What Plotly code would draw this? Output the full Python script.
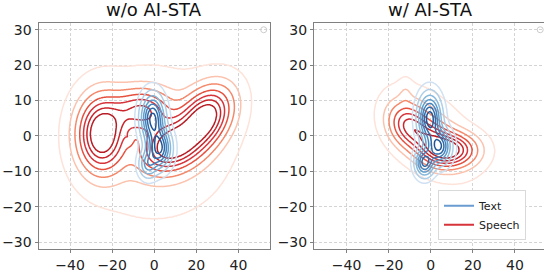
import numpy as np
import plotly.graph_objects as go

# ---- Gaussian-mixture components:
# centre x, centre y, sd x, sd y, correlation, peak height
spL_cx = [-25, 24, 8, -6, 0, -12]
spL_cy = [0.5, 5, -3, 7, -2, -1]
spL_sx = [7, 8, 9, 9, 22, 1.3]
spL_sy = [6.5, 5.5, 4.5, 4, 12.5, 1.3]
spL_r = [0, 0.35, 0.2, 0, 0, 0]
spL_h = [1.0, 0.95, 0.85, 0.6, 0.12, 0.1]

txL_cx = [-0.8, 2.5, -3]
txL_cy = [5, -3.5, -8]
txL_sx = [3.5, 3.5, 2.8]
txL_sy = [4.2, 3.5, 2.5]
txL_r = [0, 0, 0]
txL_h = [1.0, 0.95, 0.5]

spR_cx = [-11, 9, 0, 0, -12]
spR_cy = [3, -4, -1, 1, 12]
spR_sx = [6, 8, 7, 13, 2]
spR_sy = [4, 3, 4, 8, 2.5]
spR_r = [-0.2, 0, -0.3, -0.5, 0]
spR_h = [0.7, 1.0, 0.6, 0.15, 0.08]

txR_cx = [-0.5, 4, -3]
txR_cy = [5, -3, -7.5]
txR_sx = [3.4, 3.5, 2.8]
txR_sy = [4.2, 3, 2.5]
txR_r = [0, 0, 0]
txR_h = [1.0, 0.9, 0.8]

# contour levels (fraction of peak density) and their line colours
speech_levels = [0.025, 0.1, 0.2, 0.33, 0.46, 0.59, 0.72]
speech_colors = ["#fde3da", "#fbc3ae", "#f4896b", "#e6513f", "#d6333a", "#c8262c", "#b81d25"]
text_levels = [0.05, 0.15, 0.3, 0.45, 0.6, 0.75, 0.9]
text_colors = ["#cfe1f2", "#aecfe8", "#86b8dc", "#5f9dcd", "#4283be", "#2d6aa9", "#1f5596"]

titles = ["w/o AI-STA", "w/ AI-STA"]
legend_names = ["Text", "Speech"]
x_ticks = [-40, -20, 0, 20, 40]
y_ticks = [-30, -20, -10, 0, 10, 20, 30]

gx = np.linspace(-60, 60, 301)
gy = np.linspace(-36, 36, 221)
GX, GY = np.meshgrid(gx, gy)


def mixture(cx, cy, sx, sy, r, h):
    z = np.zeros_like(GX)
    for a, b, s1, s2, rho, hh in zip(cx, cy, sx, sy, r, h):
        dx = (GX - a) / s1
        dy = (GY - b) / s2
        q = (dx * dx - 2 * rho * dx * dy + dy * dy) / (1 - rho * rho)
        z += hh * np.exp(-0.5 * q)
    return z / z.max()


fig = go.Figure()


def add_kde(z, levels, colors, xa, ya):
    n = len(levels)
    idx = np.interp(z, [0.0] + levels + [1.0], [-1.0] + list(range(n)) + [n])
    scale = [[k / (n - 1), c] for k, c in enumerate(colors)]
    fig.add_trace(go.Contour(
        x=gx, y=gy, z=idx, xaxis=xa, yaxis=ya, autocontour=False,
        contours=dict(coloring="lines", start=0, end=n - 1, size=1),
        colorscale=scale, zmin=0, zmax=n - 1, showscale=False,
        line=dict(width=1.5, smoothing=1), hoverinfo="skip", showlegend=False))


add_kde(mixture(spL_cx, spL_cy, spL_sx, spL_sy, spL_r, spL_h), speech_levels, speech_colors, "x", "y")
add_kde(mixture(txL_cx, txL_cy, txL_sx, txL_sy, txL_r, txL_h), text_levels, text_colors, "x", "y")
add_kde(mixture(spR_cx, spR_cy, spR_sx, spR_sy, spR_r, spR_h), speech_levels, speech_colors, "x2", "y2")
add_kde(mixture(txR_cx, txR_cy, txR_sx, txR_sy, txR_r, txR_h), text_levels, text_colors, "x2", "y2")

# small empty legend-marker circles at the upper right corner of each panel
for xa, ya in [("x", "y"), ("x2", "y2")]:
    fig.add_trace(go.Scatter(x=[52], y=[30], xaxis=xa, yaxis=ya, mode="markers",
                             marker=dict(symbol="circle-open", size=6, color="#cccccc"),
                             showlegend=False, hoverinfo="skip"))

fig.add_trace(go.Scatter(x=[None], y=[None], xaxis="x2", yaxis="y2", mode="lines",
                         line=dict(color="#6a9bd1", width=2), name=legend_names[0]))
fig.add_trace(go.Scatter(x=[None], y=[None], xaxis="x2", yaxis="y2", mode="lines",
                         line=dict(color="#d6333a", width=2), name=legend_names[1]))

font = dict(family="DejaVu Sans", size=14, color="#222222")
ax_common = dict(showgrid=True, gridcolor="#d4d4d4", griddash="3px,2px", gridwidth=0.7,
                 zeroline=False, showline=True, linecolor="#808080", linewidth=1,
                 ticks="outside", ticklen=3, tickcolor="#808080", tickfont=font)

W, H = 544, 273
fig.update_layout(
    width=W, height=H, margin=dict(l=0, r=0, t=0, b=0),
    paper_bgcolor="white", plot_bgcolor="white",
    xaxis=dict(domain=[38.5 / W, 270 / W], range=[-55, 55], tickvals=x_ticks, mirror=True,
               anchor="y", **ax_common),
    yaxis=dict(domain=[1 - 252 / H, 1 - 22 / H], range=[-32, 32], tickvals=y_ticks, mirror=True,
               anchor="x", **ax_common),
    xaxis2=dict(domain=[314 / W, 1.0], range=[-55.5, 53.8], tickvals=x_ticks, mirror=True,
                anchor="y2", **ax_common),
    yaxis2=dict(domain=[1 - 252 / H, 1 - 22 / H], range=[-32, 32], tickvals=y_ticks, mirror=False,
                anchor="x2", **ax_common),
    legend=dict(x=438 / W, y=1 - 192 / H, xanchor="left", yanchor="top",
                bgcolor="white", bordercolor="#d9d9d9", borderwidth=1,
                font=dict(family="DejaVu Sans", size=11, color="#222222"),
                itemwidth=30, tracegroupgap=0),
    showlegend=True,
    annotations=[
        dict(text=titles[0], x=(38.5 + 270) / 2 / W, y=1 - 21 / H, xref="paper", yref="paper",
             xanchor="center", yanchor="bottom", showarrow=False,
             font=dict(family="DejaVu Sans", size=18, color="#111111")),
        dict(text=titles[1], x=(314 + 546) / 2 / W, y=1 - 21 / H, xref="paper", yref="paper",
             xanchor="center", yanchor="bottom", showarrow=False,
             font=dict(family="DejaVu Sans", size=18, color="#111111")),
    ],
)

fig.write_html("out.html", config={"displayModeBar": False},
               post_script="document.body.style.margin='0';document.body.style.overflow='hidden';")
